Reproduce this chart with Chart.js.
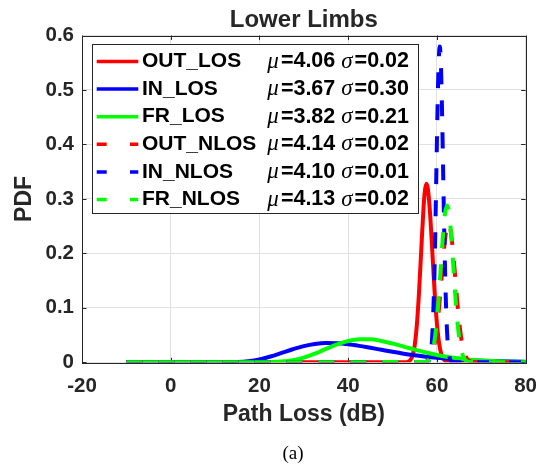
<!DOCTYPE html>
<html>
<head>
<meta charset="utf-8">
<title>Lower Limbs</title>
<script src="https://cdn.jsdelivr.net/npm/chart.js@4.4.1/dist/chart.umd.min.js"></script>
<style>
  html, body { margin: 0; padding: 0; background: #ffffff; }
  #wrap { width: 549px; height: 467px; }
</style>
</head>
<body>
<div id="wrap"><canvas id="chart" width="549" height="467"></canvas></div>
<script>
// Axis ticks
const xTicks = [-20, 0, 20, 40, 60, 80];
const xTickLabels = ['-20', '0', '20', '40', '60', '80'];
const yTicks = [0, 0.1, 0.2, 0.3, 0.4, 0.5, 0.6];
const yTickLabels = ['0', '0.1', '0.2', '0.3', '0.4', '0.5', '0.6'];

// Series names and fitted log-normal parameters shown in the legend
const seriesNames = ['OUT_LOS', 'IN_LOS', 'FR_LOS', 'OUT_NLOS', 'IN_NLOS', 'FR_NLOS'];
const seriesMu = [4.06, 3.67, 3.82, 4.14, 4.10, 4.13];
const seriesSigma = [0.02, 0.30, 0.21, 0.02, 0.01, 0.02];

// PDF curves: path loss (dB) and density
const outLosX = [-10, 53, 53.5, 54, 54.5, 55, 55.5, 56, 56.5, 57, 57.3, 57.65, 58, 58.5, 59, 59.5, 60, 60.5, 61, 61.5, 62, 62.5, 63, 80];
const outLosY = [0, 0, 0.001, 0.004, 0.012, 0.031, 0.07, 0.132, 0.21, 0.285, 0.315, 0.328, 0.317, 0.269, 0.199, 0.128, 0.072, 0.035, 0.015, 0.006, 0.002, 0.0005, 0, 0];

const inLosX = [-10, 10, 12.5, 15, 17.5, 20, 22.5, 25, 27.5, 30, 32.5, 35, 37.5, 40, 42.5, 45, 47.5, 50, 52.5, 55, 57.5, 60, 62.5, 65, 67.5, 70, 72.5, 75, 77.5, 80];
const inLosY = [0, 0, 0.0001, 0.0005, 0.002, 0.0053, 0.0106, 0.0172, 0.0239, 0.0297, 0.0336, 0.0353, 0.035, 0.0332, 0.0302, 0.0266, 0.0229, 0.0192, 0.0158, 0.0129, 0.0103, 0.0082, 0.0064, 0.005, 0.0039, 0.003, 0.0023, 0.0017, 0.0013, 0.001];

const frLosX = [-10, 20, 22.5, 25, 27.5, 30, 32.5, 35, 37.5, 40, 42.5, 45, 47.5, 50, 52.5, 55, 57.5, 60, 62.5, 65, 67.5, 70, 72.5, 75, 77.5, 80];
const frLosY = [0, 0, 0.0003, 0.0013, 0.0038, 0.0087, 0.0159, 0.0245, 0.0328, 0.0391, 0.0422, 0.0421, 0.0392, 0.0345, 0.0289, 0.0232, 0.018, 0.0135, 0.0099, 0.0071, 0.0049, 0.0034, 0.0023, 0.0015, 0.001, 0.0007];

const outNlosX = [-10, 57, 57.6, 58.1, 58.6, 59.1, 59.6, 60.1, 60.6, 61.1, 61.6, 62.1, 62.6, 63.1, 63.6, 64.1, 64.6, 65.1, 65.6, 66.1, 66.6, 67.1, 67.6, 68.2, 80];
const outNlosY = [0, 0, 0.0014, 0.0038, 0.0091, 0.02, 0.039, 0.069, 0.111, 0.16, 0.207, 0.242, 0.255, 0.242, 0.207, 0.16, 0.111, 0.069, 0.039, 0.02, 0.0091, 0.0038, 0.0014, 0.0004, 0];

const inNlosX = [-10, 57.65, 58.15, 58.65, 58.9, 59.15, 59.4, 59.65, 59.9, 60.15, 60.4, 60.65, 60.9, 61.15, 61.4, 61.65, 61.9, 62.15, 62.4, 62.65, 63.15, 63.65, 80];
const inNlosY = [0, 0, 0.0026, 0.018, 0.041, 0.083, 0.15, 0.244, 0.356, 0.467, 0.549, 0.58, 0.549, 0.467, 0.356, 0.244, 0.15, 0.083, 0.041, 0.018, 0.0026, 0, 0];

const frNlosX = [-10, 57.3, 57.8, 58.3, 58.8, 59.3, 59.8, 60.3, 60.8, 61.3, 61.8, 62.3, 62.8, 63.3, 63.8, 64.3, 64.8, 65.3, 65.8, 66.3, 66.8, 67.3, 80];
const frNlosY = [0, 0.0006, 0.0019, 0.0054, 0.0138, 0.031, 0.061, 0.107, 0.165, 0.225, 0.271, 0.288, 0.271, 0.225, 0.165, 0.107, 0.061, 0.031, 0.0138, 0.0054, 0.0019, 0.0006, 0];

const seriesX = [outLosX, inLosX, frLosX, outNlosX, inNlosX, frNlosX];
const seriesY = [outLosY, inLosY, frLosY, outNlosY, inNlosY, frNlosY];
const seriesColors = ['#ff0000', '#0000ff', '#00ff00', '#ff0000', '#0000ff', '#00ff00'];
const seriesDashed = [false, false, false, true, true, true];

const axisColor = '#262626';
const gridColor = '#e1e1e1';
const sansFamily = '"Liberation Sans", Arial, Helvetica, sans-serif';
const serifFamily = '"Liberation Serif", "Times New Roman", serif';

const datasets = seriesNames.map((name, i) => ({
  label: name,
  data: seriesX[i].map((x, k) => ({ x: x, y: seriesY[i][k] })),
  borderColor: seriesColors[i],
  backgroundColor: seriesColors[i],
  borderWidth: 4,
  borderDash: seriesDashed[i] ? [16, 16] : [],
  borderCapStyle: 'butt',
  borderJoinStyle: 'round',
  pointRadius: 0,
  pointHoverRadius: 0,
  fill: false,
  cubicInterpolationMode: 'monotone',
  // later series are painted on top
  order: seriesNames.length - i
}));

// Axes box with inward ticks on all four sides
const axesBox = {
  id: 'axesBox',
  beforeDatasetsDraw(chart) {
    const { ctx, chartArea: a, scales } = chart;
    const len = 4.5;
    ctx.save();
    ctx.strokeStyle = axisColor;
    ctx.lineWidth = 1;
    ctx.beginPath();
    xTicks.forEach(v => {
      const px = Math.round(scales.x.getPixelForValue(v)) + 0.5;
      ctx.moveTo(px, a.bottom); ctx.lineTo(px, a.bottom - len);
      ctx.moveTo(px, a.top); ctx.lineTo(px, a.top + len);
    });
    yTicks.forEach(v => {
      const py = Math.round(scales.y.getPixelForValue(v)) + 0.5;
      ctx.moveTo(a.left, py); ctx.lineTo(a.left + len, py);
      ctx.moveTo(a.right, py); ctx.lineTo(a.right - len, py);
    });
    ctx.stroke();
    ctx.strokeRect(Math.round(a.left) + 0.5, Math.round(a.top) + 0.5,
                   Math.round(a.right - a.left), Math.round(a.bottom - a.top));
    ctx.restore();
  }
};

// Boxed legend with the fitted parameters
const paramLegend = {
  id: 'paramLegend',
  afterDatasetsDraw(chart) {
    const { ctx } = chart;
    const box = { left: 92.5, top: 44.5, right: 418.5, bottom: 213.5 };
    ctx.save();
    ctx.fillStyle = '#ffffff';
    ctx.fillRect(box.left, box.top, box.right - box.left, box.bottom - box.top);
    ctx.strokeStyle = axisColor;
    ctx.lineWidth = 1;
    ctx.strokeRect(box.left, box.top, box.right - box.left, box.bottom - box.top);

    const nameFont = 'bold 21px ' + sansFamily;
    const valueFont = 'bold 21.5px ' + sansFamily;
    const greekFont = 'italic 23px ' + serifFamily;
    const rowTop = 61.5, rowStep = 27.6;
    seriesNames.forEach((name, i) => {
      const y = rowTop + i * rowStep;
      // sample line
      ctx.strokeStyle = seriesColors[i];
      ctx.lineWidth = 3.5;
      ctx.lineCap = 'butt';
      ctx.setLineDash(seriesDashed[i] ? [10, 23.3] : []);
      ctx.beginPath();
      ctx.moveTo(96.7, y);
      ctx.lineTo(138.3, y);
      ctx.stroke();
      ctx.setLineDash([]);

      ctx.fillStyle = '#000000';
      ctx.textBaseline = 'middle';
      ctx.textAlign = 'left';
      ctx.font = nameFont;
      ctx.fillText(name, 142, y);

      // [text, font, gap after]
      const pieces = [
        ['\u03bc', greekFont, 2],
        ['=' + seriesMu[i].toFixed(2) + ' ', valueFont, 0],
        ['\u03c3', greekFont, 2],
        ['=' + seriesSigma[i].toFixed(2), valueFont, 0]
      ];
      let total = 0;
      pieces.forEach(p => { ctx.font = p[1]; total += ctx.measureText(p[0]).width + p[2]; });
      let x = 409 - total;
      pieces.forEach(p => {
        ctx.font = p[1];
        ctx.fillText(p[0], x, y);
        x += ctx.measureText(p[0]).width + p[2];
      });
    });
    ctx.restore();
  }
};

// Panel caption under the axes
const panelCaption = {
  id: 'panelCaption',
  afterDraw(chart) {
    const { ctx } = chart;
    ctx.save();
    ctx.fillStyle = '#000000';
    ctx.font = '19px ' + serifFamily;
    ctx.textAlign = 'center';
    ctx.textBaseline = 'middle';
    ctx.fillText('(a)', 293, 454.5);
    ctx.restore();
  }
};

new Chart(document.getElementById('chart'), {
  type: 'line',
  data: { datasets: datasets },
  options: {
    responsive: false,
    animation: false,
    devicePixelRatio: 1,
    layout: { padding: { left: 0, right: 21, top: 0, bottom: 23.8 } },
    plugins: {
      legend: { display: false },
      tooltip: { enabled: false },
      title: {
        display: true,
        text: 'Lower Limbs',
        fullSize: false,
        color: axisColor,
        font: { family: sansFamily, size: 24, weight: 'bold', lineHeight: 1.2 },
        padding: { top: 5.8, bottom: 0.9 }
      }
    },
    scales: {
      x: {
        type: 'linear',
        min: -20,
        max: 80,
        afterBuildTicks: s => { s.ticks = xTicks.map(v => ({ value: v })); },
        afterFit: s => { s.height = 80.9; },
        ticks: {
          autoSkip: false,
          maxRotation: 0,
          padding: 12,
          color: axisColor,
          font: { family: sansFamily, size: 20.5, weight: 'bold', lineHeight: 1.2 },
          callback: (v, idx) => xTickLabels[idx]
        },
        grid: { color: gridColor, lineWidth: 1, drawTicks: false },
        border: { display: false },
        title: {
          display: true,
          text: 'Path Loss (dB)',
          color: axisColor,
          font: { family: sansFamily, size: 23, weight: 'bold', lineHeight: 1.2 },
          padding: { top: 0, bottom: 14.4 }
        }
      },
      y: {
        type: 'linear',
        min: 0,
        max: 0.6,
        afterBuildTicks: s => { s.ticks = yTicks.map(v => ({ value: v })); },
        afterFit: s => { s.width = 82; },
        ticks: {
          autoSkip: false,
          padding: 8,
          color: axisColor,
          font: { family: sansFamily, size: 20.5, weight: 'bold', lineHeight: 1.2 },
          callback: (v, idx) => yTickLabels[idx]
        },
        grid: { color: gridColor, lineWidth: 1, drawTicks: false },
        border: { display: false },
        title: {
          display: true,
          text: 'PDF',
          color: axisColor,
          font: { family: sansFamily, size: 23, weight: 'bold', lineHeight: 1.2 },
          padding: { top: 11.2, bottom: 0 }
        }
      }
    }
  },
  plugins: [axesBox, paramLegend, panelCaption]
});
</script>
</body>
</html>
